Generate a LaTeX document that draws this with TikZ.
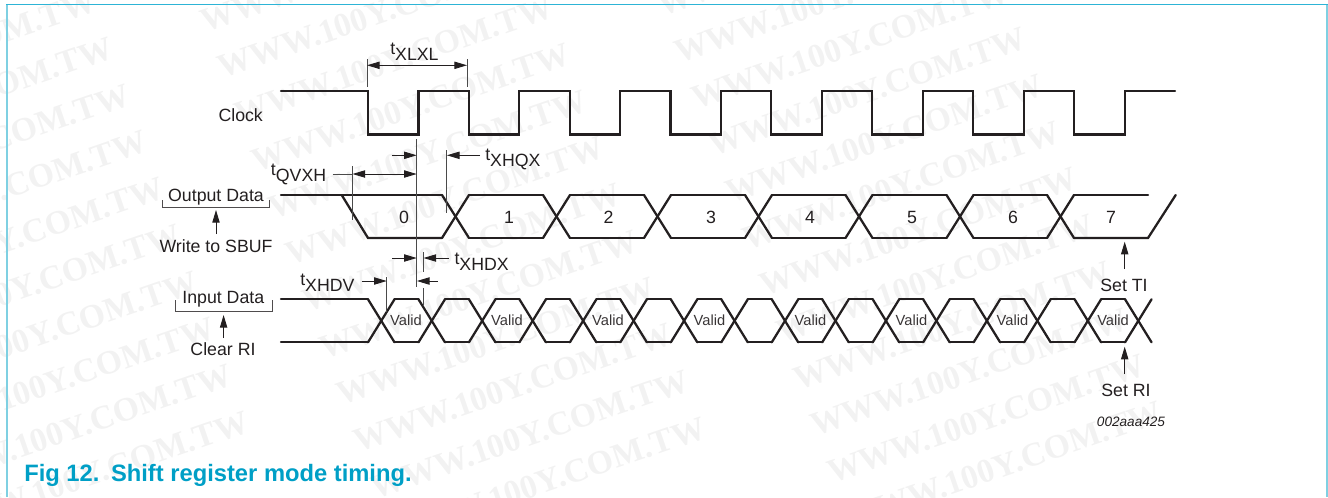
\documentclass[tikz,border=0pt]{standalone}
\usepackage{fontspec}
\setmainfont{Liberation Sans}
\newfontfamily\wmfont{Liberation Serif}[BoldFont={Liberation Serif Bold}]
\usetikzlibrary{arrows.meta}
\definecolor{ink}{HTML}{231F20}
\definecolor{dimgray}{HTML}{4A4A4A}
\definecolor{capcol}{HTML}{009FC6}
\definecolor{wmcol}{HTML}{F2F2F2}
\definecolor{frameside}{HTML}{7FD0E2}
\definecolor{frametop}{HTML}{2DB4D6}
\newcommand{\tsub}[1]{t\raisebox{-4.5pt}{#1}}
\tikzset{
  wave/.style={line width=1.7pt,color=ink,line cap=round,line join=miter},
  thinline/.style={line width=0.7pt,color=dimgray},
  arr/.style={line width=0.7pt,color=ink,-{Triangle[length=9.5pt,width=5.5pt]}},
  darr/.style={line width=0.7pt,color=ink,{Triangle[length=9.5pt,width=5.5pt]}-{Triangle[length=9.5pt,width=5.5pt]}},
  lab/.style={inner sep=0pt,anchor=base,font=\fontsize{13.3}{15}\selectfont,text=ink},
  labw/.style={lab,anchor=base west},
  vld/.style={inner sep=0pt,anchor=base,font=\fontsize{11}{13}\selectfont,text=ink!90},
  wm/.style={inner sep=0pt,anchor=base west,rotate=19,text=wmcol,font=\wmfont\bfseries\fontsize{25.3}{27}\selectfont},
}
\begin{document}
\begin{tikzpicture}[x=0.75pt,y=-0.75pt]
\useasboundingbox (0,0) rectangle (1328,497);
\begin{scope}
\clip (0,0) rectangle (1328,497);
% watermark lattice
\foreach \cx/\cy/\cn in {-235/73/c, 222/79/b, 678.8/63.3/a}{
  \foreach \k in {-2,...,10}{
    \node[wm] (wm\cn\k) at ({\cx+17*\k},{\cy+46.7*\k}) {WWW.100Y.COM.TW};
  }
}
\end{scope}
% frame
\draw[line width=1.6pt,color=frameside] (6.6,4) -- (6.6,497);
\draw[line width=1.6pt,color=frameside] (1326.6,4) -- (1326.6,497);
\draw[line width=1pt,color=frametop] (6,4.4) -- (1327.5,4.4);

% clock
\draw[wave] (281,91) -- (368,91) -- (368,134.5) -- (418.5,134.5) -- (418.5,91)
  -- (469,91) -- (469,134.5) -- (519,134.5) -- (519,91)
  -- (569.7,91) -- (569.7,134.5) -- (620,134.5) -- (620,91)
  -- (670.4,91) -- (670.4,134.5) -- (721,134.5) -- (721,91)
  -- (771.2,91) -- (771.2,134.5) -- (822,134.5) -- (822,91)
  -- (872,91) -- (872,134.5) -- (923,134.5) -- (923,91)
  -- (973,91) -- (973,134.5) -- (1024,134.5) -- (1024,91)
  -- (1074,91) -- (1074,134.5) -- (1125,134.5) -- (1125,91) -- (1175,91);

% output data
\draw[wave] (281,195) -- (442,195);
\draw[wave] (341.7,195) -- (368,238) -- (442,238);
\foreach \x in {442,543,644,745,845.5,946.5,1047}{
  \draw[wave] (\x,195) -- ({\x+27},238);
  \draw[wave] (\x,238) -- ({\x+27},195);
}
\foreach \x/\y in {469/543,570/644,671/745,772/845.5,872.5/946.5,973.5/1047}{
  \draw[wave] (\x,195) -- (\y,195);
  \draw[wave] (\x,238) -- (\y,238);
}
\draw[wave] (1074,195) -- (1148,195);
\draw[wave] (1074,238) -- (1148,238) -- (1175.7,195);

% input data
\draw[wave] (281,299.3) -- (368,299.3);
\draw[wave] (281,342.3) -- (368,342.3);
\foreach \i in {0,...,15}{
  \pgfmathsetmacro{\xa}{368+50.47*\i}
  \draw[wave] (\xa,299.3) -- ({\xa+26.5},342.3);
  \draw[wave] (\xa,342.3) -- ({\xa+26.5},299.3);
  \ifnum\i<15
    \draw[wave] ({\xa+26.5},299.3) -- ({\xa+50.47},299.3);
    \draw[wave] ({\xa+26.5},342.3) -- ({\xa+50.47},342.3);
  \fi
}

% dimension lines
\draw[thinline] (367,59) -- (367,87);
\draw[thinline] (467,59) -- (467,87);
\coordinate (xla) at (367,65.3);
\coordinate (xlb) at (467,65.3);
\draw[darr] (xla) -- (xlb);

\draw[thinline] (416.7,139) -- (416.7,286.5);
\draw[thinline] (423.3,252) -- (423.3,272);
\draw[thinline] (423.3,288) -- (423.3,305);
\draw[thinline] (446.7,150) -- (446.7,213);
\draw[thinline] (352.3,166) -- (352.3,220);
\draw[thinline] (386.7,277) -- (386.7,312);

\coordinate (qa) at (392,155.3); \coordinate (qb) at (416.7,155.3);
\coordinate (qc) at (480,155.3); \coordinate (qd) at (446.9,155.3);
\draw[arr] (qa) -- (qb);
\draw[arr] (qc) -- (qd);
\coordinate (va) at (332.7,174); \coordinate (vb) at (352.5,174); \coordinate (vc) at (416.7,174);
\draw[thinline] (va) -- (vb);
\draw[darr] (vb) -- (vc);
\coordinate (da) at (392,258); \coordinate (db) at (416.7,258);
\coordinate (dc) at (449,258); \coordinate (dd) at (423.5,258);
\draw[arr] (da) -- (db);
\draw[arr] (dc) -- (dd);
\coordinate (ea) at (361.7,281); \coordinate (eb) at (386.7,281);
\coordinate (ec) at (437.7,281); \coordinate (ed) at (416.9,281);
\draw[arr] (ea) -- (eb);
\draw[arr] (ec) -- (ed);

% time labels
\node[labw] (tl) at (390,54.7) {\tsub{XLXL}};
\node[labw] (tq) at (270.7,175) {\tsub{QVXH}};
\node[labw] (th) at (485,160.7) {\tsub{XHQX}};
\node[labw] (tx) at (454.3,264.7) {\tsub{XHDX}};
\node[labw] (tv) at (300,285.7) {\tsub{XHDV}};

% side labels
\node[lab] (clk) at (240.7,121) {Clock};
\node[lab] (od) at (216,201.7) {Output Data};
\node[lab] (ws) at (216,252) {Write to SBUF};
\node[lab] (id) at (223.3,303.3) {Input Data};
\node[lab] (cr) at (223,355.7) {Clear RI};
\node[lab] (st) at (1124,291) {Set TI};
\node[lab] (sr) at (1126,396) {Set RI};
\node[inner sep=0pt,anchor=base,font=\itshape\fontsize{10.2}{12}\selectfont,text=ink] (ref) at (1131,426.7) {002aaa425};

\draw[thinline,color=ink!80] (162.7,200) -- (162.7,207.7) -- (269.3,207.7) -- (269.3,200);
\draw[thinline,color=ink!80] (175.3,300) -- (175.3,311) -- (272.3,311) -- (272.3,300);

\coordinate (a1) at (216,234); \coordinate (a1t) at (216,210);
\coordinate (a2) at (223.6,338); \coordinate (a2t) at (223.6,315);
\coordinate (a3) at (1124.7,269); \coordinate (a3t) at (1124.7,241.7);
\coordinate (a4) at (1124.7,374); \coordinate (a4t) at (1124.7,346.7);
\draw[arr] (a1) -- (a1t);
\draw[arr] (a2) -- (a2t);
\draw[arr] (a3) -- (a3t);
\draw[arr] (a4) -- (a4t);

% digits
\foreach \n/\x in {0/404,1/509,2/608.5,3/711,4/810,5/912,6/1013,7/1111}{
  \node[lab] (d\n) at (\x,223) {\n};
}
% valid
\foreach \x [count=\i] in {406,507,608,709.5,810.5,911.5,1012.5,1113}{
  \node[vld] (v\i) at (\x,325) {Valid};
}
% caption
\node[inner sep=0pt,anchor=base west,text=capcol,font=\bfseries\fontsize{17.8}{20}\selectfont] (cap) at (24,481.7) {Fig 12.\hspace{3.75pt}\ Shift register mode timing.};
\end{tikzpicture}
\end{document}
